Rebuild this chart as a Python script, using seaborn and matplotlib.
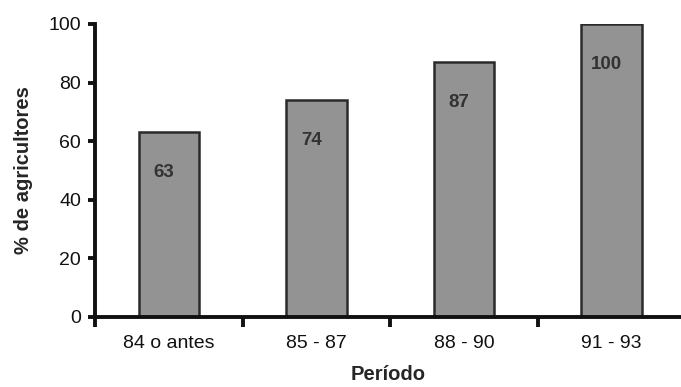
import matplotlib
matplotlib.use("Agg")
import matplotlib.pyplot as plt
import seaborn as sns
import pandas as pd

categories = ["84 o antes", "85 - 87", "88 - 90", "91 - 93"]
values = [63, 74, 87, 100]
yticks = [0, 20, 40, 60, 80, 100]

sns.set_theme(style="white")
plt.rcParams['font.family'] = ['Liberation Sans', 'DejaVu Sans']

df = pd.DataFrame({"Período": categories, "pct": values})

fig = plt.figure(figsize=(6.81, 3.87), dpi=100)
ax = fig.add_axes([0.1395, 0.181, 0.8605, 0.757])

sns.barplot(data=df, x="Período", y="pct", color="#939393", width=0.41,
            edgecolor="#2a2a2a", linewidth=1.8, saturation=1, ax=ax)

for i, v in enumerate(values):
    ax.annotate(str(v), (i, v), xytext=(-3.5, -29), textcoords="offset points",
                ha="center", va="center", fontsize=13.5, color="#333333",
                fontweight="bold")

ax.set_ylim(0, 100)
ax.set_xlim(-0.5, 3.47)
ax.set_yticks(yticks)
ax.set_yticklabels([str(t) for t in yticks], fontsize=14, color="#111111")
ax.set_xticks(range(len(categories)))
ax.set_xticklabels(categories, fontsize=14, color="#111111")
ax.set_xticks([-0.5, 0.5, 1.5, 2.5], minor=True)
ax.tick_params(axis="x", which="major", length=0, pad=13)
ax.tick_params(axis="x", which="minor", direction="out", length=7, width=2.8,
               color="#111111", bottom=True)
ax.tick_params(axis="y", which="major", direction="out", length=5, width=2.8,
               color="#111111", left=True, pad=5)

for s in ["top", "right"]:
    ax.spines[s].set_visible(False)
for s in ["left", "bottom"]:
    ax.spines[s].set_linewidth(2.8)
    ax.spines[s].set_color("#111111")

ax.set_ylabel("% de agricultores", fontsize=14.5, fontweight="bold", labelpad=11)
ax.set_xlabel("Período", fontsize=14.5, fontweight="bold", labelpad=9)

fig.savefig("out.png", dpi=100)
